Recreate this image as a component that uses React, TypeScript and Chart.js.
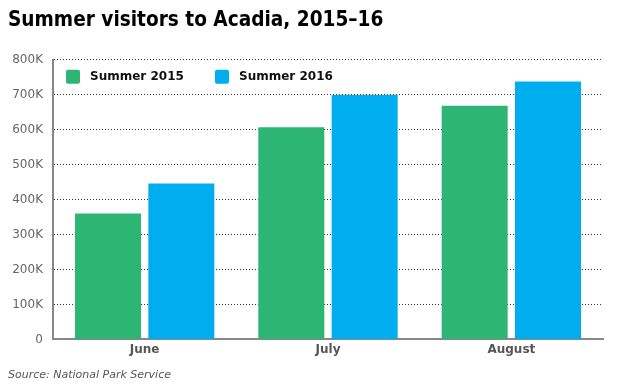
import React, { useEffect, useRef } from "react";
import { Chart, registerables } from "chart.js";

Chart.register(...registerables);

const categories = ["June", "July", "August"];
const summer2015 = [360000, 607000, 668000];
const summer2016 = [446000, 699000, 738000];
const seriesLabels = ["Summer 2015", "Summer 2016"];
const seriesColors = ["#2db673", "#00aeef"];
const titleText = "Summer visitors to Acadia, 2015\u201316";
const sourceText = "Source: National Park Service";

const FONT = "'DejaVu Sans', Verdana, sans-serif";
const TITLE_FONT = "'DejaVu Sans Condensed', 'DejaVu Sans', sans-serif";

const legendPlugin = {
  id: "innerLegend",
  afterDraw(chart: any) {
    const { ctx, chartArea } = chart;
    ctx.save();
    ctx.font = `bold 12px ${FONT}`;
    ctx.textBaseline = "middle";
    let x = chartArea.left + 13;
    const y = chartArea.top + 17;
    chart.data.datasets.forEach((ds: any) => {
      ctx.fillStyle = ds.backgroundColor;
      ctx.beginPath();
      (ctx as any).roundRect(x, y - 7, 14, 14, 2);
      ctx.fill();
      ctx.fillStyle = "#111";
      ctx.textAlign = "left";
      ctx.fillText(ds.label, x + 24, y);
      x += 149;
    });
    ctx.restore();
  },
};

export default function App() {
  const ref = useRef<HTMLCanvasElement>(null);
  useEffect(() => {
    if (!ref.current) return;
    const chart = new Chart(ref.current, {
      type: "bar",
      data: {
        labels: categories,
        datasets: [
          { label: seriesLabels[0], data: summer2015, backgroundColor: seriesColors[0] },
          { label: seriesLabels[1], data: summer2016, backgroundColor: seriesColors[1] },
        ],
      },
      options: {
        animation: false,
        responsive: false,
        layout: { padding: { left: 8, right: 21, top: 0, bottom: 4 } },
        datasets: { bar: { categoryPercentage: 0.8, barPercentage: 0.9 } } as any,
        plugins: {
          legend: { display: false },
          tooltip: { enabled: false },
          title: {
            display: true,
            text: titleText,
            align: "start",
            color: "#000",
            font: { family: TITLE_FONT, size: 20.6, weight: "bold" },
            padding: { top: 8, bottom: 27 },
          },
          subtitle: {
            display: true,
            text: sourceText,
            position: "bottom",
            align: "start",
            color: "#555",
            font: { family: FONT, size: 11, style: "italic" },
            padding: { top: 9, bottom: 4 },
          },
        },
        scales: {
          x: {
            grid: { display: false, drawTicks: false },
            border: { display: true, color: "#888", width: 2 },
            ticks: { color: "#555", font: { family: FONT, size: 12, weight: "bold" }, padding: 3 },
          },
          y: {
            min: 0,
            max: 800000,
            afterFit: (s: any) => {
              s.width = 45;
            },
            ticks: {
              stepSize: 100000,
              padding: 10,
              color: "#666",
              font: { family: FONT, size: 12 },
              callback: (v: any) => (v === 0 ? "0" : v / 1000 + "K"),
            },
            grid: {
              drawTicks: false,
              color: (c: any) => (c.tick && c.tick.value === 0 ? "rgba(0,0,0,0)" : "#333"),
              lineWidth: 1,
            },
            border: { display: true, color: "#888", width: 2, dash: [1, 2] } as any,
          },
        },
      },
      plugins: [legendPlugin],
    } as any);
    return () => chart.destroy();
  }, []);
  return (
    <div style={{ position: "fixed", left: 0, top: 0, width: 624, height: 390, background: "#fff" }}>
      <canvas ref={ref} width={624} height={390} />
    </div>
  );
}
